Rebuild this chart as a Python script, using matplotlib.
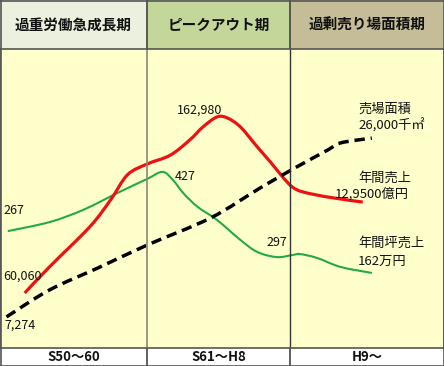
import matplotlib
matplotlib.use('Agg')
import matplotlib.pyplot as plt
from matplotlib.path import Path
from matplotlib.patches import PathPatch

plt.rcParams['font.family'] = ['Noto Sans CJK JP', 'DejaVu Sans']

# ---- data ----
periods = ['過重労働急成長期', 'ピークアウト期', '過剰売り場面積期']
period_ranges = ['S50～60', 'S61～H8', 'H9～']
period_bounds = [1974.7, 1986.0, 1997.0, 2008.85]
header_colors = ['#EBF1DE', '#C4D79B', '#C4BD97']

# 年間売上 (relative height, %)
sales_x = [1976.6, 1978.5, 1981.6, 1983.2, 1984.5, 1986.0, 1987.8,
           1989.3, 1990.3, 1991.4, 1992.2, 1993.2, 1994.5, 1995.5, 1996.5, 1997.2,
           1998.0, 1999.9, 2002.6]
sales_y = [18.4, 27.1, 40.5, 49.5, 57.9, 61.5, 64.5,
           69.6, 73.9, 77.3, 76.9, 73.9, 67.2, 62.2, 56.9, 53.8,
           52.2, 50.5, 48.8]

# 年間坪売上 (relative height, %)
tsubo_x = [1975.3, 1978.5, 1981.1, 1983.9, 1986.0, 1987.2, 1988.0, 1988.8, 1989.9,
           1991.4, 1993.2, 1994.5, 1996.0, 1997.2, 1997.8, 1999.1, 2000.9, 2003.3]
tsubo_y = [39.1, 42.1, 46.2, 52.2, 56.5, 58.9, 56.2, 51.8, 47.2,
           42.8, 36.1, 32.1, 30.4, 31.1, 31.4, 30.1, 27.1, 25.1]

# 売場面積 (relative height, %)
area_x = [1975.2, 1978.5, 1982.4, 1986.0, 1990.9, 1994.7, 1997.5, 1999.9, 2000.9, 2003.3]
area_y = [10.4, 19.4, 27.1, 34.4, 43.5, 53.5, 60.5, 66.2, 68.6, 70.2]

W, H = 444, 366
fig = plt.figure(figsize=(W / 100, H / 100), dpi=100)
fig.patch.set_facecolor('white')

def fx(x):
    return x / W

def fy(y):
    return 1 - y / H

def smooth_path(xs, ys, t=1 / 6):
    """Catmull-Rom style Bezier path through the given points."""
    pts = list(zip(xs, ys))
    verts = [pts[0]]
    codes = [Path.MOVETO]
    n = len(pts)
    for i in range(n - 1):
        p0 = pts[i - 1] if i > 0 else pts[i]
        p1 = pts[i]
        p2 = pts[i + 1]
        p3 = pts[i + 2] if i + 2 < n else pts[i + 1]
        c1 = (p1[0] + (p2[0] - p0[0]) * t, p1[1] + (p2[1] - p0[1]) * t)
        c2 = (p2[0] - (p3[0] - p1[0]) * t, p2[1] - (p3[1] - p1[1]) * t)
        verts += [c1, c2, p2]
        codes += [Path.CURVE4] * 3
    return Path(verts, codes)

# header
hdr = fig.add_axes([0, fy(49), 1, 49 / H])
hdr.set_xlim(period_bounds[0], period_bounds[-1])
hdr.set_ylim(0, 1)
hdr.axis('off')
for i, name in enumerate(periods):
    hdr.axvspan(period_bounds[i], period_bounds[i + 1], color=header_colors[i], lw=0)
    hdr.text((period_bounds[i] + period_bounds[i + 1]) / 2, 0.5, name,
             ha='center', va='center', fontsize=10.5, fontweight='bold', color='#111111')
for b in period_bounds[1:-1]:
    hdr.axvline(b, color='#444444', lw=1.2)

# footer
ftr = fig.add_axes([0, 0, 1, 18 / H])
ftr.set_xlim(period_bounds[0], period_bounds[-1])
ftr.set_ylim(0, 1)
ftr.axis('off')
for i, name in enumerate(period_ranges):
    ftr.text((period_bounds[i] + period_bounds[i + 1]) / 2, 0.5, name,
             ha='center', va='center', fontsize=9.5, fontweight='bold', color='#111111')
for b in period_bounds[1:-1]:
    ftr.axvline(b, color='#444444', lw=1.2)

# main
ax = fig.add_axes([0, 18 / H, 1, 299 / H])
ax.set_xlim(period_bounds[0], period_bounds[-1])
ax.set_ylim(0, 100)
ax.set_facecolor('#FFFFCC')
ax.set_xticks([])
ax.set_yticks([])
for s in ax.spines.values():
    s.set_color('#555555')
    s.set_linewidth(1.2)
ax.axvline(period_bounds[1], color='#888877', lw=1.2)
ax.axvline(period_bounds[2], color='#333333', lw=1.0)

ax.add_patch(PathPatch(smooth_path(tsubo_x, tsubo_y), fill=False,
                       edgecolor='#22AA44', lw=1.5, capstyle='butt', joinstyle='round'))
ax.add_patch(PathPatch(smooth_path(sales_x, sales_y), fill=False,
                       edgecolor='#EE1111', lw=2.3, capstyle='butt', joinstyle='round'))
ax.add_patch(PathPatch(smooth_path(area_x, area_y), fill=False,
                       edgecolor='black', lw=2.5, ls=(0, (3.0, 1.7)), capstyle='butt'))

# outer frame lines
fig.add_artist(plt.Line2D([0, 1], [fy(0.5), fy(0.5)], color='#555555', lw=1.2))
fig.add_artist(plt.Line2D([0, 1], [fy(365.5), fy(365.5)], color='#555555', lw=1.2))
fig.add_artist(plt.Line2D([fx(0.5), fx(0.5)], [0, 1], color='#555555', lw=1.2))
fig.add_artist(plt.Line2D([fx(443.5), fx(443.5)], [0, 1], color='#555555', lw=1.2))

def label(x, y, s, **kw):
    kw.setdefault('fontsize', 9)
    fig.text(fx(x), fy(y), s, va='center', color='#111111', **kw)

label(3, 210, '267')
label(3, 276, '60,060')
label(4, 325, '7,274')
label(200, 110, '162,980', ha='center')
label(175, 176, '427')
label(266, 242, '297')
label(358, 109, '売場面積', fontsize=9.5)
label(358, 126, '26,000千㎡', fontsize=9.5)
label(358, 178, '年間売上', fontsize=9.5)
label(335, 194, '12,9500億円', fontsize=9.5)
label(358, 243, '年間坪売上', fontsize=9.5)
label(358, 261, '162万円', fontsize=9.5)

fig.savefig('out.png', dpi=100)
